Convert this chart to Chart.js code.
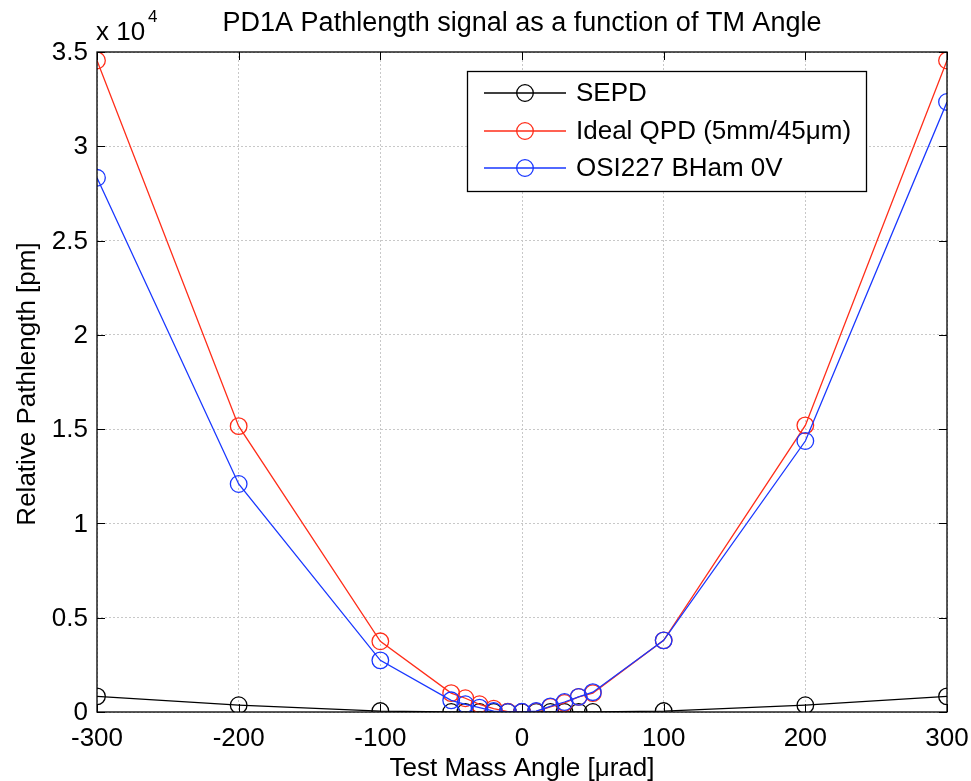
<!DOCTYPE html>
<html>
<head>
<meta charset="utf-8">
<script src="https://cdn.jsdelivr.net/npm/chart.js@4"></script>
<style>
  html, body { margin: 0; padding: 0; background: #fff; }
  #c { display: block; }
</style>
</head>
<body>
<canvas id="c" width="971" height="781"></canvas>
<script>
// Test mass angle [µrad]
const angles = [-300, -200, -100, -50, -40, -30, -20, -10, 0, 10, 20, 30, 40, 50, 100, 200, 300];
// Relative pathlength [pm]
const sepd     = [830, 360, 50, 0, 0, 0, 0, 0, 0, 0, 0, 0, 0, 0, 50, 360, 830];
const idealQpd = [34550, 15160, 3750, 1000, 730, 410, 180, 20, 0, 30, 270, 480, 800, 1000, 3800, 15200, 34550];
const osi227   = [28330, 12090, 2740, 620, 410, 230, 50, 0, 10, 50, 300, 530, 800, 1050, 3800, 14370, 32350];

const seriesNames = ['SEPD', 'Ideal QPD (5mm/45\u03bcm)', 'OSI227 BHam 0V'];
const xTicks = [-300, -200, -100, 0, 100, 200, 300];
const yTicks = [0, 5000, 10000, 15000, 20000, 25000, 30000, 35000];

const titleText = 'PD1A Pathlength signal as a function of TM Angle';
const xTitle = 'Test Mass Angle [\u03bcrad]';
const yTitle = 'Relative Pathlength [pm]';

const RED = 'rgb(255,45,25)';
const BLUE = 'rgb(25,55,255)';
const BLACK = '#000';
const FONT = '"Liberation Sans", Arial, sans-serif';

function toPoints(ys) { return angles.map((x, i) => ({ x: x, y: ys[i] })); }

function series(label, ys, color, order) {
  return {
    label: label,
    data: toPoints(ys),
    borderColor: color,
    backgroundColor: 'rgba(0,0,0,0)',
    pointBorderColor: color,
    pointBackgroundColor: 'rgba(0,0,0,0)',
    pointRadius: 8.3,
    pointBorderWidth: 1.3,
    borderWidth: 1.3,
    tension: 0,
    order: order
  };
}

// Axis box, inward tick marks, tick labels, titles, exponent and legend
const decorations = {
  id: 'decorations',
  afterDraw(chart) {
    const ctx = chart.ctx;
    const a = chart.chartArea;
    const xs = chart.scales.x, ys = chart.scales.y;
    ctx.save();
    ctx.strokeStyle = '#000';
    ctx.lineWidth = 1.3;
    ctx.strokeRect(a.left, a.top, a.right - a.left, a.bottom - a.top);
    ctx.beginPath();
    xTicks.forEach(v => {
      const px = Math.round(xs.getPixelForValue(v)) + 0.5;
      ctx.moveTo(px, a.bottom); ctx.lineTo(px, a.bottom - 8);
      ctx.moveTo(px, a.top); ctx.lineTo(px, a.top + 8);
    });
    yTicks.forEach(v => {
      const py = Math.round(ys.getPixelForValue(v)) + 0.5;
      ctx.moveTo(a.left, py); ctx.lineTo(a.left + 8, py);
      ctx.moveTo(a.right, py); ctx.lineTo(a.right - 8, py);
    });
    ctx.lineWidth = 1;
    ctx.stroke();

    ctx.fillStyle = '#000';
    ctx.font = '26px ' + FONT;

    // tick labels
    ctx.textAlign = 'center';
    ctx.textBaseline = 'alphabetic';
    xTicks.forEach(v => ctx.fillText(String(v), xs.getPixelForValue(v), 746));
    ctx.textAlign = 'right';
    ctx.textBaseline = 'middle';
    yTicks.forEach(v => ctx.fillText(String(v / 10000), a.left - 9, ys.getPixelForValue(v) + 1));

    // title
    ctx.textAlign = 'center';
    ctx.textBaseline = 'alphabetic';
    ctx.font = '27px ' + FONT;
    ctx.fillText(titleText, (a.left + a.right) / 2, 31);

    // axis titles
    ctx.font = '26px ' + FONT;
    ctx.fillText(xTitle, (a.left + a.right) / 2, 776);
    ctx.save();
    ctx.translate(35, (a.top + a.bottom) / 2 + 2);
    ctx.rotate(-Math.PI / 2);
    ctx.fillText(yTitle, 0, 0);
    ctx.restore();

    // exponent
    ctx.textAlign = 'left';
    ctx.font = '26px ' + FONT;
    ctx.fillText('x 10', a.left - 1, 40);
    ctx.font = '17px ' + FONT;
    ctx.fillText('4', a.left + 51, 22);

    // legend
    const lx = 467, ly = 71, lw = 399, lh = 120;
    ctx.fillStyle = '#fff';
    ctx.fillRect(lx, ly, lw, lh);
    ctx.strokeStyle = '#000';
    ctx.lineWidth = 1.3;
    ctx.strokeRect(lx + 0.5, ly + 0.5, lw, lh);
    const rows = [93, 131, 168];
    const cols = [BLACK, RED, BLUE];
    ctx.font = '26px ' + FONT;
    ctx.textBaseline = 'middle';
    rows.forEach((ry, i) => {
      ctx.strokeStyle = cols[i];
      ctx.lineWidth = 1.3;
      ctx.beginPath();
      ctx.moveTo(484, ry); ctx.lineTo(566, ry);
      ctx.stroke();
      ctx.beginPath();
      ctx.arc(525, ry, 8.3, 0, Math.PI * 2);
      ctx.stroke();
      ctx.fillStyle = '#000';
      ctx.fillText(seriesNames[i], 576, ry + 1);
    });
    ctx.restore();
  }
};

new Chart(document.getElementById('c'), {
  type: 'line',
  data: {
    datasets: [
      series(seriesNames[0], sepd, BLACK, 3),
      series(seriesNames[1], idealQpd, RED, 2),
      series(seriesNames[2], osi227, BLUE, 1)
    ]
  },
  options: {
    responsive: false,
    animation: false,
    devicePixelRatio: 1,
    layout: { padding: { top: 52, right: 24, left: 0, bottom: 0 } },
    plugins: {
      legend: { display: false },
      title: { display: false },
      tooltip: { enabled: false }
    },
    scales: {
      x: {
        type: 'linear',
        min: -300, max: 300,
        afterFit(scale) { scale.height = 69; scale.paddingLeft = 0; scale.paddingRight = 0; },
        afterBuildTicks(scale) { scale.ticks = xTicks.map(v => ({ value: v })); },
        ticks: { display: false },
        grid: { color: '#c8c8c8', lineWidth: 1, drawTicks: false },
        border: { display: false, dash: [2, 2] }
      },
      y: {
        type: 'linear',
        min: 0, max: 35000,
        afterFit(scale) { scale.width = 97; scale.paddingTop = 0; scale.paddingBottom = 0; },
        afterBuildTicks(scale) { scale.ticks = yTicks.map(v => ({ value: v })); },
        ticks: { display: false },
        grid: { color: '#c8c8c8', lineWidth: 1, drawTicks: false },
        border: { display: false, dash: [2, 2] }
      }
    }
  },
  plugins: [decorations]
});
</script>
</body>
</html>
